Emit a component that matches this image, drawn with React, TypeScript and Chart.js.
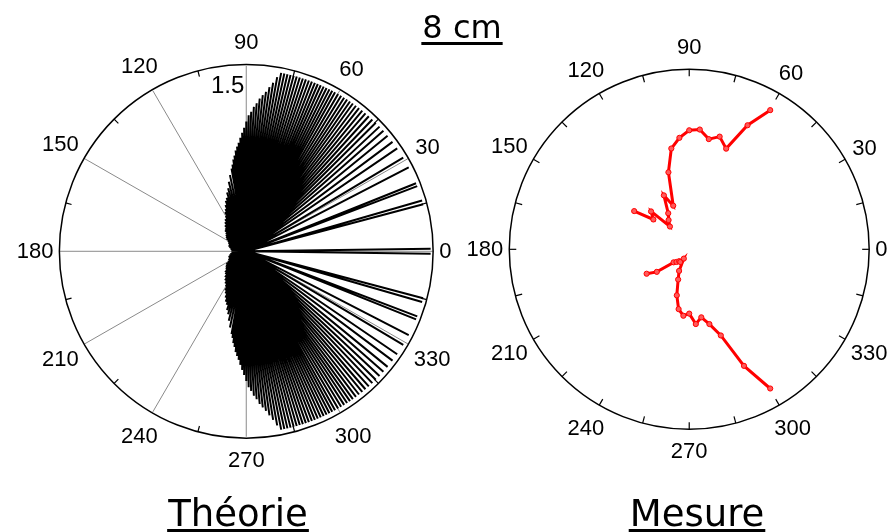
import React, { useEffect, useRef } from "react";
import { Chart, registerables } from "chart.js";

Chart.register(...registerables);

// ---------- data ----------
const ANGLE_LABELS = [0, 30, 60, 90, 120, 150, 180, 210, 240, 270, 300, 330];
const RADIAL_MAX = 1.5;
const RADIAL_TICK_LABEL = "1.5";

const TITLE_TOP = "8 cm";
const TITLE_LEFT = "Théorie";
const TITLE_RIGHT = "Mesure";

// Théorie: spokes (angle in degrees, length) for the upper half; the lower half is the mirror image
const THEORY_ANGLES = [
  0.8, 15, 16.2, 21, 22, 27.5, 31, 34.5, 37, 39.5, 41.5, 43.3, 45, 46.5, 48, 49.4, 50.7, 52, 53.2,
  54.4, 55.5, 56.6, 57.7, 58.8, 59.9, 61, 62, 63, 64, 65, 66, 67, 68, 69, 70, 71, 72, 73, 74, 75,
  76, 77, 78, 79, 80, 81, 82, 83, 84, 85, 86, 87, 88, 89, 90, 91, 92, 93, 94, 95, 96, 97, 98, 99,
  100, 102, 104, 106, 108, 110, 112, 114, 116, 118, 120, 123, 126, 129, 132, 135, 138, 141, 144,
  147, 150, 154, 158, 162, 166, 170, 174, 178,
];
const THEORY_RADII = [
  1.48, 1.47, 1.47, 1.47, 1.47, 1.47, 1.47, 1.47, 1.47, 1.47, 1.47, 1.47, 1.47, 1.47, 1.47, 1.47,
  1.47, 1.47, 1.47, 1.47, 1.47, 1.47, 1.47, 1.47, 1.47, 1.47, 1.47, 1.47, 1.47, 1.47, 1.47, 1.47,
  1.47, 1.47, 1.47, 1.47, 1.47, 1.47, 1.47, 1.47, 1.47, 1.47, 1.47, 1.47, 1.43, 1.38, 1.34, 1.3,
  1.27, 1.24, 1.2, 1.17, 1.13, 1.1, 1.05, 1.0, 0.96, 0.92, 0.88, 0.85, 0.82, 0.78, 0.75, 0.71,
  0.68, 0.63, 0.58, 0.53, 0.5, 0.46, 0.44, 0.41, 0.38, 0.36, 0.33, 0.31, 0.29, 0.27, 0.25, 0.24,
  0.22, 0.21, 0.2, 0.19, 0.17, 0.16, 0.15, 0.15, 0.14, 0.13, 0.12, 0.12,
];

// Mesure: measured points (angle in degrees, radius)
const MEASURE_UPPER_ANGLES = [60, 65, 70, 75, 80, 85, 90, 95, 100, 105, 110, 115, 120, 125, 130, 135, 140, 145];
const MEASURE_UPPER_RADII = [1.35, 1.15, 0.9, 0.98, 0.94, 1.01, 1.0, 0.94, 0.86, 0.67, 0.39, 0.5, 0.35, 0.3, 0.25, 0.45, 0.39, 0.56];
const MEASURE_LOWER_ANGLES = [210, 215, 220, 225, 230, 235, 240, 245, 250, 255, 260, 265, 270, 275, 280, 285, 290, 295, 300];
const MEASURE_LOWER_RADII = [0.41, 0.33, 0.17, 0.15, 0.13, 0.13, 0.09, 0.2, 0.27, 0.4, 0.51, 0.56, 0.54, 0.63, 0.58, 0.65, 0.77, 1.08, 1.35];

// ---------- layout ----------
const W = 890;
const H = 532;
const LEFT = { cx: 244, cy: 251, R: 189 };
const RIGHT = { cx: 692, cy: 249, R: 182 };
const LABEL_FONT = '22px "Liberation Sans", Arial, sans-serif';
const TITLE_FONT_FAMILY = '"DejaVu Sans", "Noto Sans", sans-serif';

const rad = (d: number) => (d * Math.PI) / 180;
const toXY = (deg: number, r: number) => ({ x: r * Math.cos(rad(deg)), y: r * Math.sin(rad(deg)) });

function scaleRange(frame: { cx: number; cy: number; R: number }) {
  const ppu = frame.R / RADIAL_MAX;
  return {
    x: { min: -frame.cx / ppu, max: (W - frame.cx) / ppu },
    y: { min: -(H - frame.cy) / ppu, max: frame.cy / ppu },
  };
}

function drawFrame(chart: any, xId: string, yId: string, opts: { spokes: boolean; tickAngles: number[]; tickLen: number }) {
  const ctx = chart.ctx as CanvasRenderingContext2D;
  const sx = chart.scales[xId];
  const sy = chart.scales[yId];
  const cx = sx.getPixelForValue(0);
  const cy = sy.getPixelForValue(0);
  const Rpx = sx.getPixelForValue(RADIAL_MAX) - cx;
  ctx.save();
  ctx.strokeStyle = "#000";
  ctx.lineWidth = 1.5;
  ctx.beginPath();
  ctx.arc(cx, cy, Rpx, 0, Math.PI * 2);
  ctx.stroke();
  ctx.lineWidth = 1.2;
  for (const a of opts.tickAngles) {
    const c = Math.cos(rad(a));
    const s = Math.sin(rad(a));
    ctx.beginPath();
    ctx.moveTo(cx + Rpx * c, cy - Rpx * s);
    ctx.lineTo(cx + (Rpx - opts.tickLen) * c, cy - (Rpx - opts.tickLen) * s);
    ctx.stroke();
  }
  ctx.fillStyle = "#000";
  ctx.font = LABEL_FONT;
  ctx.textAlign = "center";
  ctx.textBaseline = "middle";
  for (const a of ANGLE_LABELS) {
    const txt = String(a);
    const w = ctx.measureText(txt).width;
    const c = Math.cos(rad(a));
    const s = Math.sin(rad(a));
    const off = Rpx + 12 + Math.abs(c) * (w / 2 - 6) + Math.abs(s) * 10;
    ctx.fillText(txt, cx + off * c, cy - off * s + 1);
  }
  ctx.restore();
}

function drawSpokes(chart: any, xId: string, yId: string) {
  const ctx = chart.ctx as CanvasRenderingContext2D;
  const sx = chart.scales[xId];
  const sy = chart.scales[yId];
  ctx.save();
  ctx.strokeStyle = "#8a8a8a";
  ctx.lineWidth = 1;
  for (const a of ANGLE_LABELS) {
    const p = toXY(a, RADIAL_MAX);
    ctx.beginPath();
    ctx.moveTo(sx.getPixelForValue(0), sy.getPixelForValue(0));
    ctx.lineTo(sx.getPixelForValue(p.x), sy.getPixelForValue(p.y));
    ctx.stroke();
  }
  ctx.restore();
}

function drawTitle(ctx: CanvasRenderingContext2D, txt: string, x: number, baseline: number, size: number, ulY: number) {
  ctx.save();
  ctx.fillStyle = "#000";
  ctx.font = `${size}px ${TITLE_FONT_FAMILY}`;
  ctx.textAlign = "center";
  ctx.textBaseline = "alphabetic";
  ctx.fillText(txt, x, baseline);
  const w = ctx.measureText(txt).width;
  ctx.fillRect(x - w / 2 - 1, ulY, w + 2, 3);
  ctx.restore();
}

const polarPlugin = {
  id: "polarFrames",
  beforeDatasetsDraw(chart: any) {
    drawSpokes(chart, "x", "y");
  },
  afterDatasetsDraw(chart: any) {
    drawFrame(chart, "x", "y", { spokes: true, tickAngles: [15, 45, 75, 105, 135, 165, 195, 225, 255, 285, 315, 345], tickLen: 6 });
    const tick15: number[] = [];
    for (let a = 0; a < 360; a += 15) tick15.push(a);
    drawFrame(chart, "x2", "y2", { spokes: false, tickAngles: tick15, tickLen: 7 });
    const ctx = chart.ctx as CanvasRenderingContext2D;
    const sx = chart.scales.x;
    const sy = chart.scales.y;
    ctx.save();
    ctx.fillStyle = "#000";
    ctx.font = '24px "Liberation Sans", Arial, sans-serif';
    ctx.textAlign = "right";
    ctx.textBaseline = "middle";
    ctx.fillText(RADIAL_TICK_LABEL, sx.getPixelForValue(0) - 2, sy.getPixelForValue(RADIAL_MAX) + 21);
    ctx.restore();
    drawTitle(ctx, TITLE_TOP, 462, 38, 32, 42);
    drawTitle(ctx, TITLE_LEFT, 238, 526, 37, 529);
    drawTitle(ctx, TITLE_RIGHT, 697, 526, 37, 529);
  },
};

export default function App() {
  const ref = useRef<HTMLCanvasElement | null>(null);
  useEffect(() => {
    if (!ref.current) return;
    const spokeData: { x: number; y: number }[] = [];
    THEORY_ANGLES.forEach((a, i) => {
      spokeData.push({ x: 0, y: 0 }, toXY(a, THEORY_RADII[i]));
    });
    THEORY_ANGLES.forEach((a, i) => {
      spokeData.push({ x: 0, y: 0 }, toXY(-a, THEORY_RADII[i]));
    });
    const upper = MEASURE_UPPER_ANGLES.map((a, i) => toXY(a, MEASURE_UPPER_RADII[i]));
    const lower = MEASURE_LOWER_ANGLES.map((a, i) => toXY(a, MEASURE_LOWER_RADII[i]));
    const L = scaleRange(LEFT);
    const Rr = scaleRange(RIGHT);
    const redStyle = {
      showLine: true,
      borderColor: "#ff0000",
      borderWidth: 3,
      pointRadius: 2.6,
      pointBackgroundColor: "#ff5a5a",
      pointBorderColor: "#ff0000",
      pointBorderWidth: 1,
      xAxisID: "x2",
      yAxisID: "y2",
      clip: false as any,
    };
    const chart = new Chart(ref.current, {
      type: "scatter",
      data: {
        datasets: [
          {
            label: TITLE_LEFT,
            data: spokeData,
            showLine: true,
            borderColor: "#000",
            borderWidth: 2,
            borderJoinStyle: "bevel",
            pointRadius: 0,
            xAxisID: "x",
            yAxisID: "y",
            clip: false as any,
          } as any,
          { label: TITLE_RIGHT, data: upper, ...redStyle } as any,
          { label: TITLE_RIGHT + " 2", data: lower, ...redStyle } as any,
        ],
      },
      options: {
        responsive: false,
        animation: false,
        events: [],
        layout: { padding: 0 },
        plugins: { legend: { display: false }, tooltip: { enabled: false }, title: { display: false } },
        scales: {
          x: { type: "linear", axis: "x", display: false, min: L.x.min, max: L.x.max },
          y: { type: "linear", axis: "y", display: false, min: L.y.min, max: L.y.max },
          x2: { type: "linear", axis: "x", display: false, min: Rr.x.min, max: Rr.x.max },
          y2: { type: "linear", axis: "y", display: false, min: Rr.y.min, max: Rr.y.max },
        } as any,
      },
      plugins: [polarPlugin],
    });
    return () => chart.destroy();
  }, []);
  return (
    <div style={{ position: "absolute", left: 0, top: 0, width: W, height: H, background: "#fff" }}>
      <canvas ref={ref} width={W} height={H} style={{ display: "block", width: W, height: H }} />
    </div>
  );
}
